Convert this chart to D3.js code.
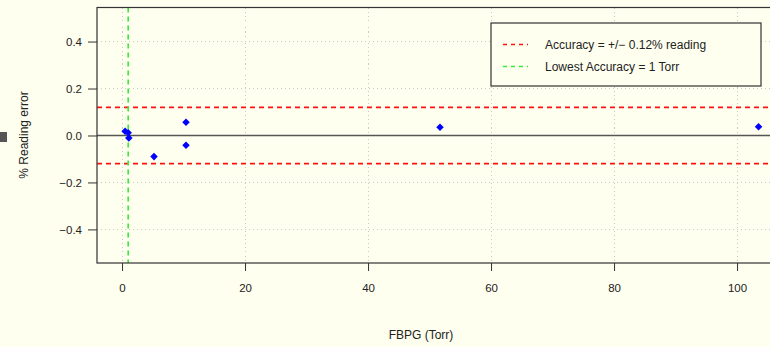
<!DOCTYPE html>
<html>
<head>
<meta charset="utf-8">
<script src="https://cdn.jsdelivr.net/npm/d3@7"></script>
<style>
  body { margin: 0; background: #fffff0; }
  svg { display: block; font-family: "Liberation Sans", Arial, sans-serif; }
</style>
</head>
<body>
<svg width="770" height="347"></svg>
<script>
(function () {
    'use strict'

    // FBPG pressure readings (Torr) and the % reading error at each
    const pressures = [0.5, 1.0, 1.1, 5.2, 10.4, 10.4, 51.7, 103.5];
    const errors = [0.018, 0.012, -0.011, -0.090, 0.056, -0.042, 0.035, 0.037];

    const xTicks = [0, 20, 40, 60, 80, 100];
    const yTicks = [-0.4, -0.2, 0.0, 0.2, 0.4];

    const accuracy = 0.12;      // +/- band
    const lowestAccuracy = 1;   // Torr
    const legendLabels = ['Accuracy = +/\u2212 0.12% reading', 'Lowest Accuracy = 1 Torr'];

    let svg = d3.select('svg');

    svg.append('rect')
        .attr('width', 770).attr('height', 347)
        .attr('fill', '#fffff0');

    // plot region (right edge runs past the window)
    let left = 97, right = 783, top = 7.5, bottom = 263;

    let x = d3.scaleLinear()
        .domain([-4.07, 107.47])
        .range([left, right]);

    let y = d3.scaleLinear()
        .domain([-0.543, 0.545])
        .range([bottom, top]);

    let g = svg.append('g');

    // dotted grid
    g.selectAll('line.gx')
        .data(xTicks)
        .enter()
        .append('line')
        .attr('x1', d => x(d)).attr('x2', d => x(d))
        .attr('y1', top).attr('y2', bottom)
        .attr('stroke', '#c8c8c8')
        .attr('shape-rendering', 'crispEdges')
        .attr('stroke-dasharray', '1,3');

    g.selectAll('line.gy')
        .data(yTicks)
        .enter()
        .append('line')
        .attr('x1', left).attr('x2', right)
        .attr('y1', d => y(d)).attr('y2', d => y(d))
        .attr('stroke', '#c8c8c8')
        .attr('shape-rendering', 'crispEdges')
        .attr('stroke-dasharray', '1,3');

    // zero line
    g.append('line')
        .attr('x1', left).attr('x2', right)
        .attr('y1', y(0)).attr('y2', y(0))
        .attr('stroke', '#555')
        .attr('stroke-width', 1.6);

    // accuracy band
    g.selectAll('line.acc')
        .data([accuracy, -accuracy])
        .enter()
        .append('line')
        .attr('x1', left).attr('x2', right)
        .attr('y1', d => y(d)).attr('y2', d => y(d))
        .attr('stroke', '#ff1010')
        .attr('stroke-width', 1.8)
        .attr('stroke-dasharray', '5,4');

    // lowest accuracy
    g.append('line')
        .attr('x1', x(lowestAccuracy)).attr('x2', x(lowestAccuracy))
        .attr('y1', top).attr('y2', bottom)
        .attr('stroke', '#33ee33')
        .attr('stroke-width', 1.6)
        .attr('stroke-dasharray', '5,4');

    // points as diamonds
    g.selectAll('path.pt')
        .data(pressures)
        .enter()
        .append('path')
        .attr('d', d3.symbol(d3.symbolDiamond2, 36))
        .attr('transform', (d, i) => 'translate(' + x(d) + ',' + y(errors[i]) + ')')
        .attr('fill', '#0000ff');

    // frame
    g.append('rect')
        .attr('x', left).attr('y', top)
        .attr('width', right - left).attr('height', bottom - top)
        .attr('fill', 'none')
        .attr('stroke', '#333')
        .attr('stroke-width', 1.2);

    // axes
    let xAxis = d3.axisBottom(x)
        .tickValues(xTicks)
        .tickSize(8)
        .tickPadding(13)
        .tickFormat(d3.format('d'));

    let yAxis = d3.axisLeft(y)
        .tickValues(yTicks)
        .tickSize(9)
        .tickPadding(6)
        .tickFormat(d3.format('.1f'));

    let ax = svg.append('g')
        .attr('transform', 'translate(0,' + bottom + ')')
        .call(xAxis);
    let ay = svg.append('g')
        .attr('transform', 'translate(' + left + ',0)')
        .call(yAxis);

    [ax, ay].forEach(a => {
        a.select('.domain').remove();
        a.selectAll('line').attr('stroke', '#333');
        a.selectAll('text')
            .attr('fill', '#222')
            .style('font-size', '11.5px')
            .style('font-family', '"Liberation Sans", Arial, sans-serif');
    });

    // titles
    svg.append('text')
        .attr('x', 421).attr('y', 339)
        .attr('text-anchor', 'middle')
        .style('font-size', '12px')
        .attr('fill', '#222')
        .text('FBPG (Torr)');

    svg.append('text')
        .attr('transform', 'translate(28,135) rotate(-90)')
        .attr('text-anchor', 'middle')
        .style('font-size', '12px')
        .attr('fill', '#222')
        .text('% Reading error');

    // stray marker at left edge
    svg.append('rect')
        .attr('x', 0).attr('y', 132)
        .attr('width', 7).attr('height', 10)
        .attr('fill', '#555');

    // legend
    let lg = svg.append('g');
    lg.append('rect')
        .attr('x', 491).attr('y', 23)
        .attr('width', 270).attr('height', 63)
        .attr('fill', '#fffff0')
        .attr('stroke', '#333')
        .attr('stroke-width', 1.2);

    let legendColors = ['#ff1010', '#33ee33'];
    let items = lg.selectAll('g.item')
        .data(legendLabels)
        .enter()
        .append('g')
        .attr('transform', (d, i) => 'translate(0,' + (44.5 + i * 22) + ')');

    items.append('line')
        .attr('x1', 503).attr('x2', 528)
        .attr('stroke', (d, i) => legendColors[i])
        .attr('stroke-width', 1.4)
        .attr('stroke-dasharray', '4,4');

    items.append('text')
        .attr('x', 545).attr('y', 4.5)
        .style('font-size', '12px')
        .attr('fill', '#222')
        .text(d => d);
})();
</script>
</body>
</html>
